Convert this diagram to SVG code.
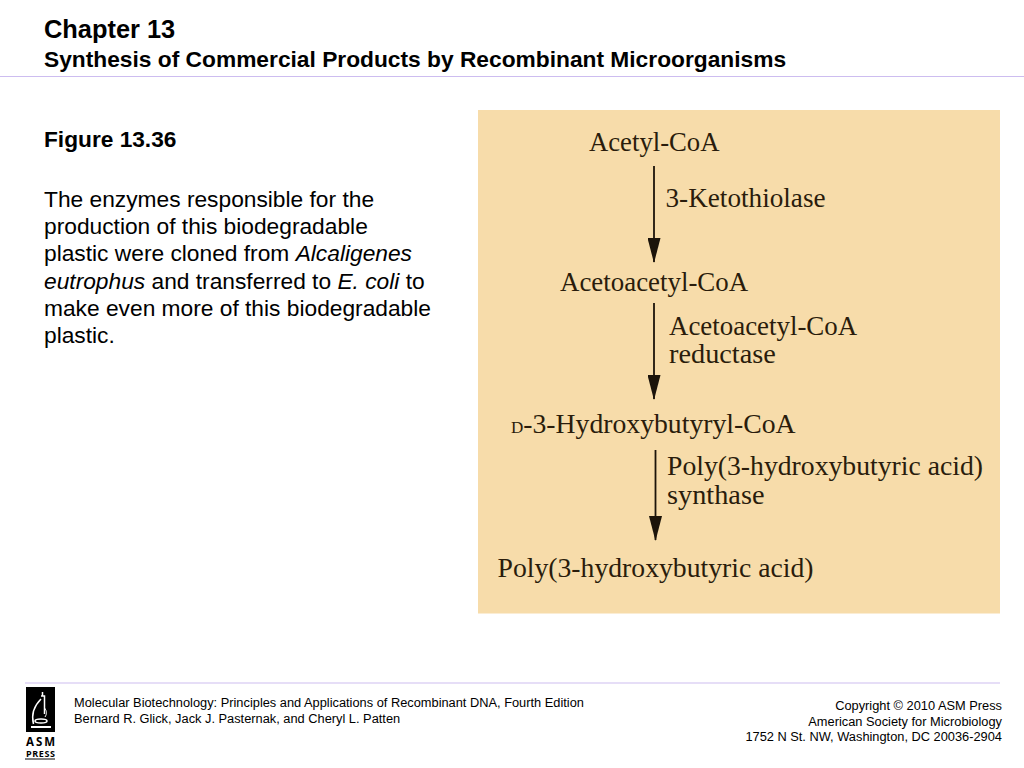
<svg xmlns="http://www.w3.org/2000/svg" width="1024" height="768" viewBox="0 0 1024 768">
<style>
.s{font-family:"Liberation Sans",Arial,sans-serif;fill:#000}
.b{font-weight:bold}
.body{font-size:22.75px}
.foot{font-size:12.82px}
.p{font-family:"Liberation Serif","Times New Roman",serif;fill:#2a1c0c;font-size:26.9px}
.w{font-size:27.7px}
.n{font-size:28.3px}
.rule{stroke:#cdbdf0;stroke-width:1.2}
.arrow{stroke:#1c140a;stroke-width:1.800;fill:none;marker-end:url(#ah)}
</style>
<defs><marker id="ah" markerUnits="userSpaceOnUse" markerWidth="25" markerHeight="13" refX="24" refY="6.500" orient="auto" viewBox="0 0 25 13"><path d="M0 0L25 6.500L0 13Z" fill="#1c140a"/></marker></defs>
<rect width="1024" height="768" fill="#fff"/>
<g id="header">
<text class="s b" x="44" y="38" font-size="25.400">Chapter 13</text>
<text class="s b" x="44" y="66.500" font-size="22.760">Synthesis of Commercial Products by Recombinant Microorganisms</text>
<line class="rule" x1="0" y1="76.500" x2="1024" y2="76.500"/>
</g>
<g id="caption">
<text class="s b" x="44" y="146.500" font-size="22.700">Figure 13.36</text>
<text class="s body" x="44" y="206.500">The enzymes responsible for the</text>
<text class="s body" x="44" y="233.500">production of this biodegradable</text>
<text class="s body" x="44" y="261">plastic were cloned from <tspan font-style="italic">Alcaligenes</tspan></text>
<text class="s body" x="44" y="288.500"><tspan font-style="italic">eutrophus</tspan> and transferred to <tspan font-style="italic">E. coli</tspan> to</text>
<text class="s body" x="44" y="316">make even more of this biodegradable</text>
<text class="s body" x="44" y="343">plastic.</text>
</g>
<rect id="panel" x="478" y="110" width="522" height="503.500" fill="#f7dcaa"/>
<g id="connectors">
<line class="arrow" x1="654" y1="166" x2="654" y2="262"/>
<line class="arrow" x1="654" y1="303" x2="654" y2="399"/>
<line class="arrow" x1="655.500" y1="450" x2="655.500" y2="540"/>
</g>
<g id="node-acetyl-coa"><text class="p" x="589" y="151" style="font-size:26.700px">Acetyl-CoA</text></g>
<g id="label-ketothiolase"><text class="p" x="665.500" y="207" style="font-size:27.200px">3-Ketothiolase</text></g>
<g id="node-acetoacetyl-coa"><text class="p" x="560" y="291">Acetoacetyl-CoA</text></g>
<g id="label-reductase"><text class="p" x="669" y="335">Acetoacetyl-CoA</text><text class="p n" x="669" y="363">reductase</text></g>
<g id="node-hydroxybutyryl-coa"><text class="p w" x="511" y="433"><tspan font-size="17">D</tspan>-3-Hydroxybutyryl-CoA</text></g>
<g id="label-synthase"><text class="p w" x="667" y="475">Poly(3-hydroxybutyric acid)</text><text class="p n" x="667" y="503.500">synthase</text></g>
<g id="node-poly"><text class="p w" x="497.500" y="576.500">Poly(3-hydroxybutyric acid)</text></g>
<g id="footer">
<line class="rule" x1="25" y1="683" x2="1000" y2="683"/>
<rect x="26" y="687" width="29" height="45" fill="#000"/>
<g fill="none" stroke="#fff" stroke-width="1.500">
<path d="M42.500 692V696M41 696H44.500V714M41 699C35 705 31 714 33.500 724"/>
<path d="M31 727H51" stroke-width="2"/>
<ellipse cx="41" cy="721" rx="6" ry="2"/>
<path d="M44.500 708C47 711 47 714 45 717" stroke-width="1"/>
</g>
<text class="s" x="40.500" y="746" font-size="11.500" font-weight="bold" text-anchor="middle" textLength="29" style="font-family:'Open Sans','Liberation Sans',sans-serif">ASM</text>
<text class="s" x="40.500" y="757" font-size="9" font-weight="bold" text-anchor="middle" textLength="29" style="font-family:'Open Sans','Liberation Sans',sans-serif">PRESS</text>
<line x1="25" y1="759" x2="55" y2="759" stroke="#000" stroke-width="1"/>
<text class="s foot" x="74" y="707">Molecular Biotechnology: Principles and Applications of Recombinant DNA, Fourth Edition</text>
<text class="s foot" x="74" y="722.500">Bernard R. Glick, Jack J. Pasternak, and Cheryl L. Patten</text>
<text class="s foot" x="1002" y="710" text-anchor="end">Copyright © 2010 ASM Press</text>
<text class="s foot" x="1002" y="725.500" text-anchor="end">American Society for Microbiology</text>
<text class="s foot" x="1002" y="741" text-anchor="end">1752 N St. NW, Washington, DC 20036-2904</text>
</g>
</svg>
